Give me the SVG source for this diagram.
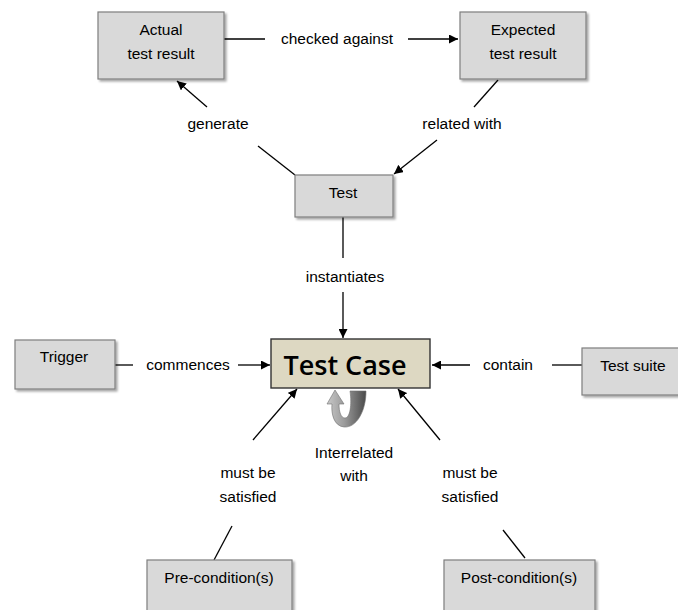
<svg xmlns="http://www.w3.org/2000/svg" width="678" height="610" viewBox="0 0 678 610">
<defs>
<marker id="ah" viewBox="0 0 10 10" refX="10" refY="5" markerWidth="9" markerHeight="9" markerUnits="userSpaceOnUse" orient="auto">
<path d="M0,0 L10,5 L0,10 z" fill="#000"/>
</marker>
<linearGradient id="cg" x1="0" y1="0" x2="1" y2="0">
<stop offset="0" stop-color="#c8c8c8"/>
<stop offset="0.45" stop-color="#9a9a9a"/>
<stop offset="1" stop-color="#4a4a4a"/>
</linearGradient>
<filter id="sh" x="-10%" y="-10%" width="130%" height="130%">
<feDropShadow dx="2" dy="2" stdDeviation="1.2" flood-color="#000" flood-opacity="0.35"/>
</filter>
</defs>
<style>
.box{fill:#d9d9d9;stroke:#7f7f7f;stroke-width:1.2;filter:url(#sh)}
.t{font-family:"Liberation Sans",Arial,sans-serif;font-size:15.5px;fill:#000;text-anchor:middle}
.ln{stroke:#000;stroke-width:1.3;fill:none}
.ar{stroke:#000;stroke-width:1.3;fill:none;marker-end:url(#ah)}
</style>
<rect width="678" height="610" fill="#fff"/>
<g id="connectors">
<line class="ln" x1="224" y1="39" x2="265" y2="39"/>
<line class="ar" x1="408" y1="39" x2="458" y2="39"/>
<line class="ln" x1="295" y1="175" x2="258" y2="146"/>
<line class="ar" x1="207" y1="107" x2="177" y2="81"/>
<line class="ln" x1="498" y1="80" x2="474" y2="107"/>
<line class="ar" x1="437" y1="140" x2="394" y2="174"/>
<line class="ln" x1="343" y1="217" x2="343" y2="258"/>
<line class="ar" x1="343" y1="292" x2="343" y2="338"/>
<line class="ln" x1="115" y1="365" x2="133" y2="365"/>
<line class="ar" x1="238" y1="365" x2="270" y2="365"/>
<line class="ar" x1="470" y1="365" x2="432" y2="365"/>
<line class="ln" x1="552" y1="365" x2="582" y2="365"/>
<line class="ln" x1="214" y1="560" x2="232" y2="526"/>
<line class="ar" x1="253" y1="440" x2="297" y2="389"/>
<line class="ln" x1="525" y1="558" x2="503" y2="530"/>
<line class="ar" x1="440" y1="440" x2="398" y2="389"/>
<text class="t" x="337" y="44">checked against</text>
<text class="t" x="218" y="129">generate</text>
<text class="t" x="462" y="129">related with</text>
<text class="t" x="345" y="282">instantiates</text>
<text class="t" x="188" y="370">commences</text>
<text class="t" x="508" y="370">contain</text>
<text class="t" x="248" y="478">must be</text>
<text class="t" x="248" y="502">satisfied</text>
<text class="t" x="470" y="478">must be</text>
<text class="t" x="470" y="502">satisfied</text>
<text class="t" x="354" y="458">Interrelated</text>
<text class="t" x="354" y="481">with</text>
<path d="M366,391 C366,412 356,428 344,427 C334,426 331,414 332,404 L327,404 L335,390 L344,404 L339,404 C339,412 341,418 345,418 C350,418 352,405 350,391 Z" fill="url(#cg)" stroke="#707070" stroke-width="0.6"/>
</g>
<g id="actual">
<rect class="box" x="98" y="12" width="126" height="67"/>
<text class="t" x="161" y="35">Actual</text>
<text class="t" x="161" y="59">test result</text>
</g>
<g id="expected">
<rect class="box" x="460" y="12" width="126" height="67"/>
<text class="t" x="523" y="35">Expected</text>
<text class="t" x="523" y="59">test result</text>
</g>
<g id="test">
<rect class="box" x="295" y="175" width="98" height="42"/>
<text class="t" x="343" y="198">Test</text>
</g>
<g id="testcase">
<rect x="271" y="339" width="159" height="49" fill="#ddd8c2" stroke="#333" stroke-width="1.4"/>
<text x="345" y="375" font-family="'Open Sans','Liberation Sans',sans-serif" font-size="27" font-weight="600" text-anchor="middle" fill="#000">Test Case</text>
</g>
<g id="trigger">
<rect class="box" x="15" y="340" width="100" height="49"/>
<text class="t" x="64" y="362">Trigger</text>
</g>
<g id="testsuite">
<rect class="box" x="582" y="348" width="100" height="47"/>
<text class="t" x="633" y="371">Test suite</text>
</g>
<g id="precondition">
<rect class="box" x="147" y="560" width="145" height="52"/>
<text class="t" x="219" y="583">Pre-condition(s)</text>
</g>
<g id="postcondition">
<rect class="box" x="444" y="560" width="151" height="52"/>
<text class="t" x="519" y="583">Post-condition(s)</text>
</g>
</svg>
